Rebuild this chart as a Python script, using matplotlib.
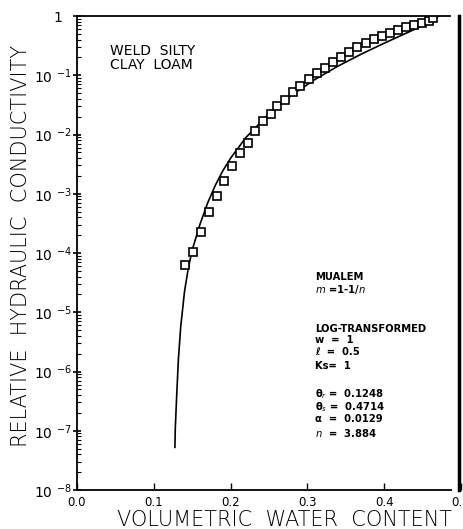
import numpy as np
import matplotlib
matplotlib.use("Agg")
import matplotlib.pyplot as plt

# ---- data ----
theta_obs = [0.141, 0.151, 0.162, 0.172, 0.182, 0.192, 0.202, 0.212, 0.223, 0.232,
             0.242, 0.252, 0.261, 0.271, 0.281, 0.291, 0.302, 0.312, 0.323, 0.333,
             0.344, 0.354, 0.365, 0.376, 0.387, 0.397, 0.408, 0.418, 0.428, 0.439,
             0.449, 0.458, 0.464]
logK_obs = [-4.20, -3.99, -3.65, -3.31, -3.04, -2.78, -2.54, -2.32, -2.14, -1.94,
            -1.78, -1.65, -1.52, -1.42, -1.28, -1.18, -1.07, -0.96, -0.88, -0.78,
            -0.69, -0.61, -0.53, -0.46, -0.39, -0.33, -0.28, -0.23, -0.19, -0.15,
            -0.12, -0.08, -0.03]

theta_fit = [0.1275, 0.128, 0.130, 0.132, 0.135, 0.140, 0.145, 0.150, 0.160, 0.170,
             0.180, 0.190, 0.200, 0.220, 0.250, 0.280, 0.310, 0.340, 0.370, 0.400,
             0.430, 0.450, 0.4714]
logK_fit = [-7.28, -6.95, -6.35, -5.80, -5.25, -4.65, -4.25, -3.95, -3.52, -3.16,
            -2.86, -2.61, -2.40, -2.05, -1.65, -1.33, -1.07, -0.845, -0.644, -0.459,
            -0.282, -0.162, 0.0]

x_ticks = [0.0, 0.1, 0.2, 0.3, 0.4, 0.5]
x_ticklabels = ["0.0", "0.1", "0.2", "0.3", "0.4", "0.5"]
y_ticks = [1e-8, 1e-7, 1e-6, 1e-5, 1e-4, 1e-3, 1e-2, 1e-1, 1]
y_ticklabels = ["10 $^{-8}$", "10 $^{-7}$", "10 $^{-6}$", "10 $^{-5}$", "10 $^{-4}$",
                "10 $^{-3}$", "10 $^{-2}$", "10 $^{-1}$", "1  "]

K_obs = 10.0 ** np.array(logK_obs)
K_fit = 10.0 ** np.array(logK_fit)

fig = plt.figure(figsize=(4.64, 5.29), dpi=100)
ax = fig.add_axes([77/464, 1 - 490/529, (461-77)/464, (490-16)/529])

ax.plot(theta_fit, K_fit, color="black", lw=1.2)
ax.plot(theta_obs, K_obs, linestyle="none", marker="s", markersize=5.3,
        markerfacecolor="white", markeredgecolor="black", markeredgewidth=1.2)

ax.set_yscale("log")
ax.set_xlim(0, 0.5)
ax.set_ylim(1e-8, 1)

ax.set_xticks(x_ticks)
ax.set_xticklabels(x_ticklabels, fontsize=8.5)
ax.set_yticks(y_ticks)
ax.set_yticklabels(y_ticklabels, fontsize=9)
ax.yaxis.set_minor_locator(matplotlib.ticker.LogLocator(base=10, subs=np.arange(2, 10)))
ax.yaxis.set_minor_formatter(matplotlib.ticker.NullFormatter())
ax.tick_params(axis="x", direction="in", length=5, width=1, pad=4)
ax.tick_params(axis="y", which="major", direction="inout", length=6, width=1.2, pad=1)
ax.tick_params(axis="y", which="minor", direction="in", length=3, width=0.8)

ax.spines["top"].set_bounds(0, 0.486)
ax.spines["bottom"].set_bounds(0, 0.487)
ax.spines["right"].set_position(("data", 0.497))
ax.spines["right"].set_linewidth(2.5)
for s in ["top", "bottom", "left"]:
    ax.spines[s].set_linewidth(1.3)

fig.text(21/464, 1 - 246/529, "RELATIVE  HYDRAULIC  CONDUCTIVITY", rotation=90,
         ha="center", va="center", fontsize=15, fontweight="light")
fig.text(285/464, 1 - 520/529, "VOLUMETRIC  WATER  CONTENT",
         ha="center", va="center", fontsize=15, fontweight="light")

fig.text(110/464, 1 - 44/529, "WELD  SILTY\nCLAY  LOAM",
         ha="left", va="top", fontsize=10, fontweight="medium", linespacing=1.0)

info = [
    (272, "MUALEM"),
    (283, "$m$ =1-1/$n$"),
    (324, "LOG-TRANSFORMED"),
    (335, "w  =  1"),
    (347, "ℓ  =  0.5"),
    (361, "Ks=  1"),
    (387, "θ$_r$ =  0.1248"),
    (400, "θ$_s$ =  0.4714"),
    (414, "α  =  0.0129"),
    (427, "$n$  =  3.884"),
]
for ypix, txt in info:
    fig.text(315/464, 1 - ypix/529, txt, ha="left", va="top", fontsize=7.2,
             fontweight="bold")

fig.savefig("out.png", dpi=100, facecolor="white")
